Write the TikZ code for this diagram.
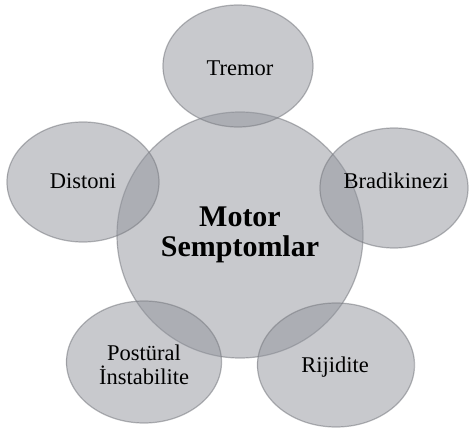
\documentclass[tikz,border=0pt]{standalone}
\usepackage{fontspec}
\setmainfont{Liberation Serif}
\usetikzlibrary{shapes.geometric}
\definecolor{blobin}{RGB}{146,149,157}
\definecolor{blobout}{RGB}{112,115,123}
\definecolor{blobline}{RGB}{120,122,128}
\pgfdeclareradialshading{blobshade}{\pgfpoint{0bp}{0bp}}{color(0bp)=(blobin); color(38bp)=(blobin); color(50bp)=(blobout); color(72bp)=(blobout)}
\tikzset{
  blob/.style={ellipse, inner sep=0pt, draw=blobline, line width=1.2pt,
    draw opacity=0.55, fill opacity=0.5, text opacity=1, shading=blobshade},
  lbl/.style={font=\fontsize{22.5}{25}\selectfont, text=black, align=center},
}
\begin{document}
\begin{tikzpicture}[x=1pt,y=-1pt]
\useasboundingbox (0,0) rectangle (469,428);
\fill[white] (0,0) rectangle (469,428);
\node[blob, minimum width=246pt, minimum height=246pt] (c) at (240,235) {};
\node[blob, minimum width=150pt, minimum height=122pt] (tr) at (238,66) {};
\node[blob, minimum width=152pt, minimum height=120pt] (di) at (83,182) {};
\node[blob, minimum width=148pt, minimum height=120pt] (br) at (394,188) {};
\node[blob, minimum width=155pt, minimum height=122pt] (po) at (144,362) {};
\node[blob, minimum width=157pt, minimum height=124pt] (ri) at (336,365) {};
\node[lbl, anchor=base] (ttr) at (240,76) {Tremor};
\node[lbl, anchor=base] (tdi) at (83,188) {Distoni};
\node[lbl, anchor=base] (tbr) at (396,188) {Bradikinezi};
\node[lbl, anchor=base] (tri) at (335,372) {Rijidite};
\node[lbl, anchor=base, font=\fontsize{22.5}{24}\selectfont] (tpo) at (144,384) {Postüral\\İnstabilite};
\node[lbl, anchor=base, font=\fontsize{30}{30}\selectfont\bfseries] (tc) at (240,256) {Motor\\Semptomlar};
\end{tikzpicture}
\end{document}
